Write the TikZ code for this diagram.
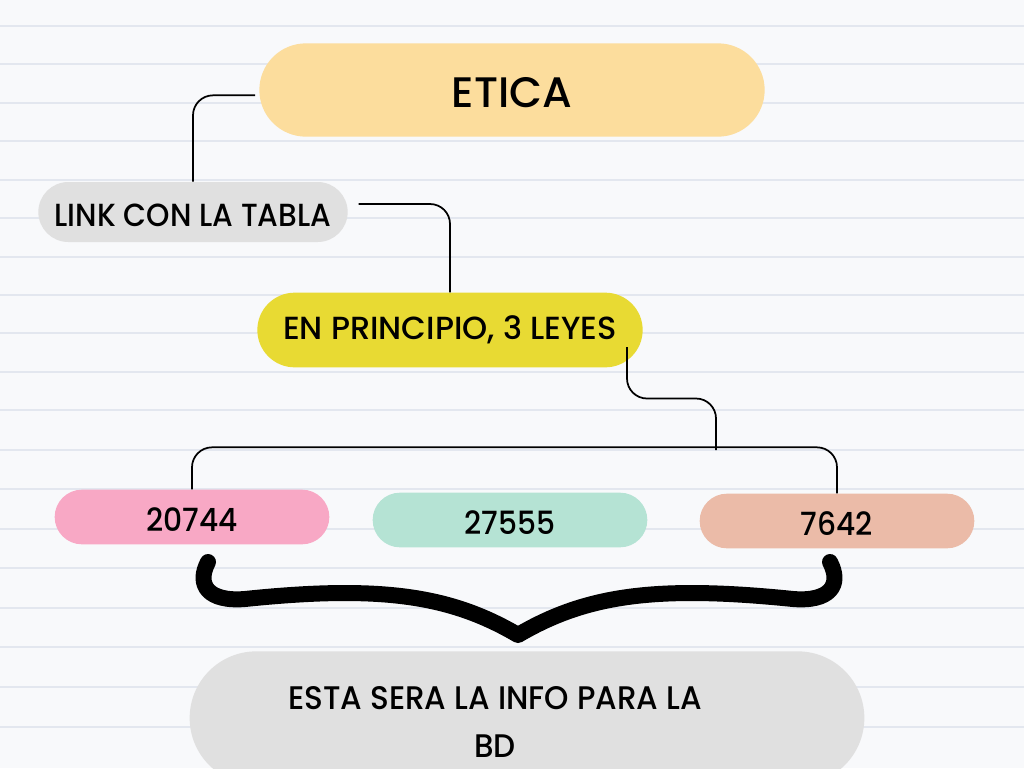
\documentclass[tikz,border=0pt]{standalone}
\usepackage{fontspec}
\setmainfont{Poppins Medium}
\newfontfamily\slimfont[FakeStretch=0.93]{Poppins Medium}
\newfontfamily\bdfont[FakeStretch=0.95]{Poppins Medium}
\usetikzlibrary{calc,positioning,shapes.misc}
\definecolor{paperbg}{HTML}{F8F9FB}
\definecolor{paperline}{HTML}{E3E7EF}
\definecolor{eticaorange}{HTML}{FCDD9D}
\definecolor{linkgray}{HTML}{E0E0E0}
\definecolor{leyesyellow}{HTML}{E8DA33}
\definecolor{lawpink}{HTML}{F8A8C5}
\definecolor{lawmint}{HTML}{B5E3D4}
\definecolor{lawsalmon}{HTML}{EBBBA8}

\begin{document}
\begin{tikzpicture}[x=0.75pt,y=-0.75pt,
  blob/.style={rounded rectangle, inner sep=0pt, text=black,
    font=\fontsize{24}{28}\selectfont},
  lowtext/.style={text height=21.5pt, text depth=0pt},
  lawblob/.style={blob, lowtext, minimum width=206pt, minimum height=41pt,
    font=\slimfont\fontsize{24}{28}\selectfont},
  conn/.style={black, line width=1.3pt, rounded corners=15pt}]
  % paper
  \fill[paperbg] (0,0) rectangle (1024,768);
  \useasboundingbox (0,0) rectangle (1024,768);
  \foreach \ly in {26,64.3,102.7,141.3,179.7,218.3,256.7,295,333.3,371.7,
                   410,449.7,489.3,529,568.3,608,647.3,687.3,726.7}
    \draw[paperline, line width=1.5pt] (0,\ly) -- (1024,\ly);

  % boxes
  \node[blob, fill=eticaorange, minimum width=379pt, minimum height=70pt,
    text height=25.5pt, text depth=0pt,
    font=\fontsize{32}{36}\selectfont] (etica) at (512,90) {ETICA};
  \node[blob, lowtext, fill=linkgray, minimum width=232pt, minimum height=45pt,
    font=\slimfont\fontsize{24}{28}\selectfont] (link) at (193,212) {LINK CON LA TABLA};
  \node[blob, fill=leyesyellow, minimum width=289pt, minimum height=56pt] (leyes) at (450,330) {EN PRINCIPIO, 3 LEYES};
  \node[lawblob, fill=lawpink] (law1) at (192,517) {20744};
  \node[lawblob, fill=lawmint] (law2) at (510,520) {27555};
  \node[lawblob, fill=lawsalmon] (law3) at (837,521) {7642};
  \node[blob, fill=linkgray, minimum width=506pt, minimum height=100pt] (bdblob) at (527,718) {};
  \node[align=center, inner sep=0pt, font=\bdfont\fontsize{24.5}{36}\selectfont] (bdtext) at (495,722)
    {ESTA SERA LA INFO PARA LA\\BD};

  % connectors
  \draw[conn] ([xshift=-3pt,yshift=-4pt]etica.west) -| (link.north);
  \draw[conn] ([xshift=8pt,yshift=6pt]link.east) -| (leyes.north);
  \coordinate (lp) at (627,347);
  \coordinate (split) at (716,450);
  \draw[conn] (lp) |- ($(lp)!0.5!(split)$) -| (split);
  \draw[conn] (law1.north) |- ([yshift=2pt]split) -| (law3.north);

  % brace
  \coordinate (bl) at (208,562);
  \coordinate (br) at (830,562);
  \coordinate (tip) at (518,635);
  \draw[black, line width=12pt, line cap=round, line join=round]
    (bl) .. controls (196,585) and (208,602) .. (245,599)
    .. controls (380,585) and (450,595) .. (tip)
    .. controls (586,595) and (656,585) .. (793,599)
    .. controls (830,602) and (842,585) .. (br);
\end{tikzpicture}
\end{document}
